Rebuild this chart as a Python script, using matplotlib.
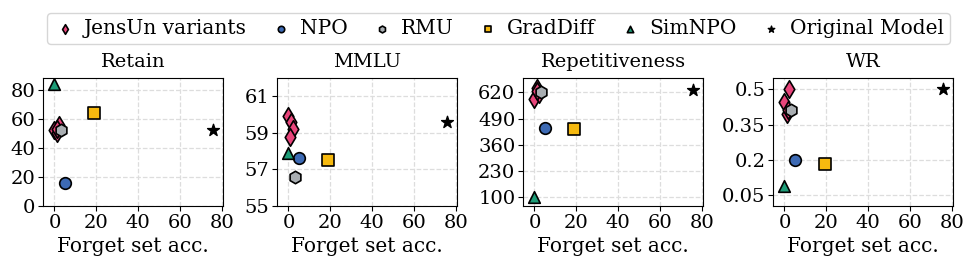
import matplotlib
matplotlib.use("Agg")
import matplotlib.pyplot as plt

plt.rcParams["font.family"] = "DejaVu Serif"

# forget set accuracy (x) and metric values (y)
panels = ["Retain", "MMLU", "Repetitiveness", "WR"]

jensun_x = {"Retain": [2, 0, 1, 1], "MMLU": [0, 1, 2, 0.5],
            "Repetitiveness": [1, 0, 2, 1], "WR": [2, 0, 1, 1.5]}
jensun_y = {"Retain": [56, 52, 50, 53], "MMLU": [59.9, 59.6, 59.2, 58.8],
            "Repetitiveness": [640, 585, 610, 625], "WR": [0.50, 0.445, 0.395, 0.41]}

npo_x = [5, 5, 5, 5]
npo_y = [16, 57.6, 445, 0.20]
rmu_x = [3, 3, 3, 3]
rmu_y = [52, 56.6, 620, 0.41]
graddiff_x = [19, 19, 19, 19.5]
graddiff_y = [64, 57.5, 440, 0.182]
simnpo_x = [0, 0, 0, 0]
simnpo_y = [84, 57.9, 100, 0.09]
orig_x = [76, 76, 76, 76]
orig_y = [52.5, 59.6, 633, 0.50]

yticks = {"Retain": [0, 20, 40, 60, 80], "MMLU": [55, 57, 59, 61],
          "Repetitiveness": [100, 230, 360, 490, 620], "WR": [0.05, 0.2, 0.35, 0.5]}
ylims = {"Retain": (0, 88), "MMLU": (55, 62),
         "Repetitiveness": (54, 692), "WR": (0.003, 0.548)}

fig = plt.figure(figsize=(9.77, 2.71), dpi=100)
W, H = 977, 271
lefts = [43, 277, 523, 773]
bottom_px, top_px, width_px = 206, 78, 180

kw = dict(edgecolor="black", linewidths=1.2, zorder=3)
handles = None
for i, p in enumerate(panels):
    ax = fig.add_axes([lefts[i] / W, 1 - bottom_px / H, width_px / W, (bottom_px - top_px) / H])
    ax.grid(True, ls="--", color="#dddddd", lw=0.9, zorder=0)
    h1 = ax.scatter(jensun_x[p], jensun_y[p], marker="d", s=80, color="#e8457b", **kw)
    h2 = ax.scatter(npo_x[i], npo_y[i], marker="o", s=70, color="#3d6ab4", **kw)
    h3 = ax.scatter(rmu_x[i], rmu_y[i], marker="h", s=80, color="#a9aeb2", **kw)
    h4 = ax.scatter(graddiff_x[i], graddiff_y[i], marker="s", s=70, color="#f6b90f", **kw)
    h5 = ax.scatter(simnpo_x[i], simnpo_y[i], marker="^", s=70, color="#1e9d78", **kw)
    h6 = ax.scatter(orig_x[i], orig_y[i], marker="*", s=80, color="black", zorder=3)
    handles = [h1, h2, h3, h4, h5, h6]
    ax.set_xlim(-5.5, 80.6)
    ax.set_xticks([0, 20, 40, 60, 80])
    ax.set_ylim(*ylims[p])
    ax.set_yticks(yticks[p])
    ax.set_yticklabels([f"{v:g}" for v in yticks[p]])
    ax.tick_params(labelsize=14, pad=2)
    ax.set_title(p, fontsize=14, pad=8)
    ax.set_xlabel("Forget set acc.", fontsize=14.5, labelpad=4)

labels = ["JensUn variants", "NPO", "RMU", "GradDiff", "SimNPO", "Original Model"]
fig.legend(handles, labels, loc="upper center", bbox_to_anchor=(0.51, 0.99), ncol=6,
           fontsize=14.5, handletextpad=0.35, columnspacing=1.1, borderpad=0.3,
           markerscale=0.55, handlelength=1.2)

fig.savefig("out.png", dpi=100)
